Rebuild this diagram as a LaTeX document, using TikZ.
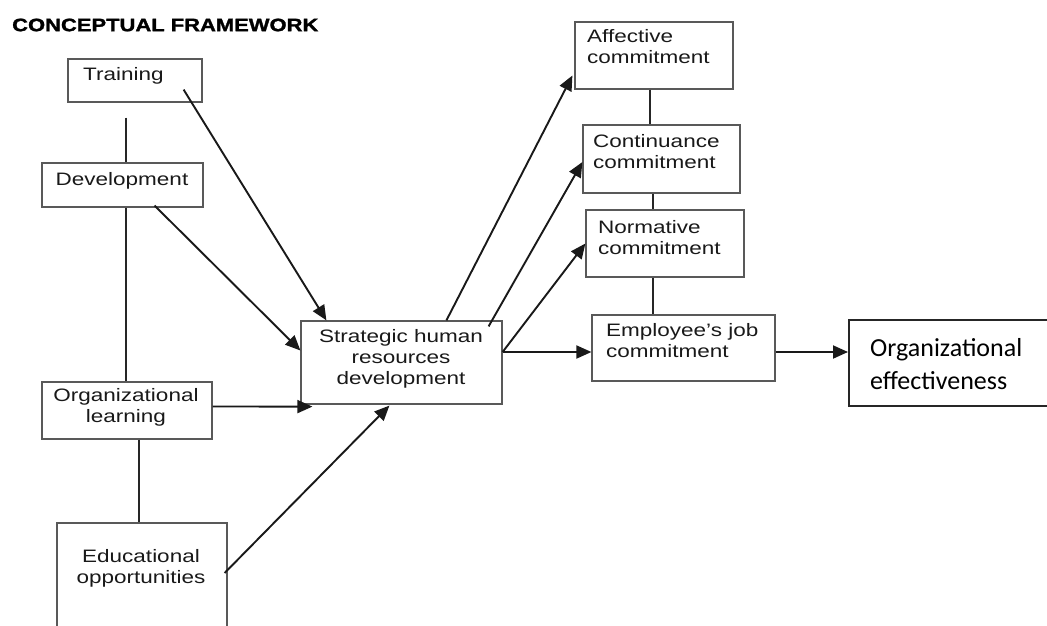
\documentclass[tikz,border=0pt]{standalone}
\usepackage{fontspec}
\newfontfamily\gothic[FakeStretch=1.25]{Liberation Sans}
\newfontfamily\gothicbold[FakeStretch=1.22,FakeBold=1.5]{Liberation Sans Bold}
\newfontfamily\calib{Carlito}
\usetikzlibrary{arrows.meta,fit}
\begin{document}
\begin{tikzpicture}[x=1pt,y=-1pt,
  box/.style={draw=black!65,line width=1.2pt,inner sep=0pt,rectangle},
  bigbox/.style={draw=black!85,line width=2pt,inner sep=0pt,rectangle},
  txt/.style={inner sep=0pt,font=\gothic\fontsize{18}{21}\selectfont,text=black!90},
  arr/.style={draw=black!90,line width=1.9pt,-{Triangle[length=15pt,width=13pt]}},
  link/.style={draw=black!85,line width=1.5pt}]
\useasboundingbox (0,0) rectangle (1047,626);
\clip (0,0) rectangle (1047,626);
\fill[white] (0,0) rectangle (1047,626);

% title
\node[inner sep=0pt,anchor=west,font=\gothicbold\fontsize{18}{21}\selectfont] (title) at (12,25) {CONCEPTUAL FRAMEWORK};

% boxes
\node[box,fit={(68,59) (202,102)}] (train) {};
\node[box,fit={(42,163) (203,207)}] (dev) {};
\node[box,fit={(42,382) (212,439)}] (orgl) {};
\node[box,fit={(57,523) (227,660)}] (edu) {};
\node[box,fit={(301,321) (502,404)}] (strat) {};
\node[box,fit={(575,22) (733,89)}] (aff) {};
\node[box,fit={(583,125) (740,193)}] (cont) {};
\node[box,fit={(586,210) (744,277)}] (norm) {};
\node[box,fit={(592,315) (775,381)}] (emp) {};
\node[bigbox,fit={(849,320) (1080,406)}] (eff) {};

% texts
\node[txt,anchor=west] (trainT) at (83,76) {Training};
\node[txt] (devT) at (122,181) {Development};
\node[txt,align=center] (orglT) at (126,407) {Organizational\\learning};
\node[txt,align=center] (eduT) at (141,568) {Educational\\opportunities};
\node[txt,align=center] (stratT) at (401,359) {Strategic human\\resources\\development};
\node[txt,anchor=west,align=left] (affT) at (587,47) {Affective\\commitment};
\node[txt,anchor=west,align=left] (contT) at (593,152) {Continuance\\commitment};
\node[txt,anchor=west,align=left] (normT) at (598,238) {Normative\\commitment};
\node[txt,anchor=west,align=left] (empT) at (606,341) {Employee’s job\\commitment};
\node[inner sep=0pt,anchor=west,align=left,font=\calib\fontsize{26}{33}\selectfont] (effT) at (870,364) {Organizational\\effectiveness};

% plain links
\draw[link] ([shift={(-9pt,-15pt)}]train.south) coordinate (p1) -- (p1 |- dev.north);
\draw[link] ([xshift=3.5pt]dev.south) coordinate (p2) -- (p2 |- orgl.north);
\draw[link] ([xshift=12pt]orgl.south) coordinate (p3) -- (p3 |- edu.north);
\draw[link] ([xshift=-4pt]aff.south) coordinate (p4) -- (p4 |- cont.north);
\draw[link] ([xshift=-8.5pt]cont.south) coordinate (p5) -- (p5 |- norm.north);
\draw[link] ([xshift=-12pt]norm.south) coordinate (p6) -- (p6 |- emp.north);

% arrows into strategic HRD
\draw[arr] ([shift={(-19pt,13pt)}]train.south east) -- ([xshift=26pt]strat.north west);
\draw[arr] ([shift={(-49pt,2pt)}]dev.south east) -- ([yshift=12pt]strat.west);
\draw[arr] ([yshift=4pt]orgl.east) -- ([shift={(12pt,-2pt)}]strat.south west);
\draw[arr] ([shift={(-3pt,0pt)}]edu.east |- 0,573) -- ([shift={(89pt,-1pt)}]strat.south west);

% arrows out of strategic HRD
\draw[arr] ([xshift=146pt]strat.north west) -- ([shift={(-2pt,-20pt)}]aff.west);
\draw[arr] ([shift={(-14pt,-6pt)}]strat.north east) -- ([yshift=-3pt]cont.west);
\draw[arr] ([yshift=10.5pt]strat.east) -- (norm.west);
\draw[arr] ([yshift=10.5pt]strat.east) -- ([yshift=-4pt]emp.west);
\draw[arr] ([yshift=-4pt]emp.east) -- ([yshift=11pt]eff.west);
\end{tikzpicture}
\end{document}
